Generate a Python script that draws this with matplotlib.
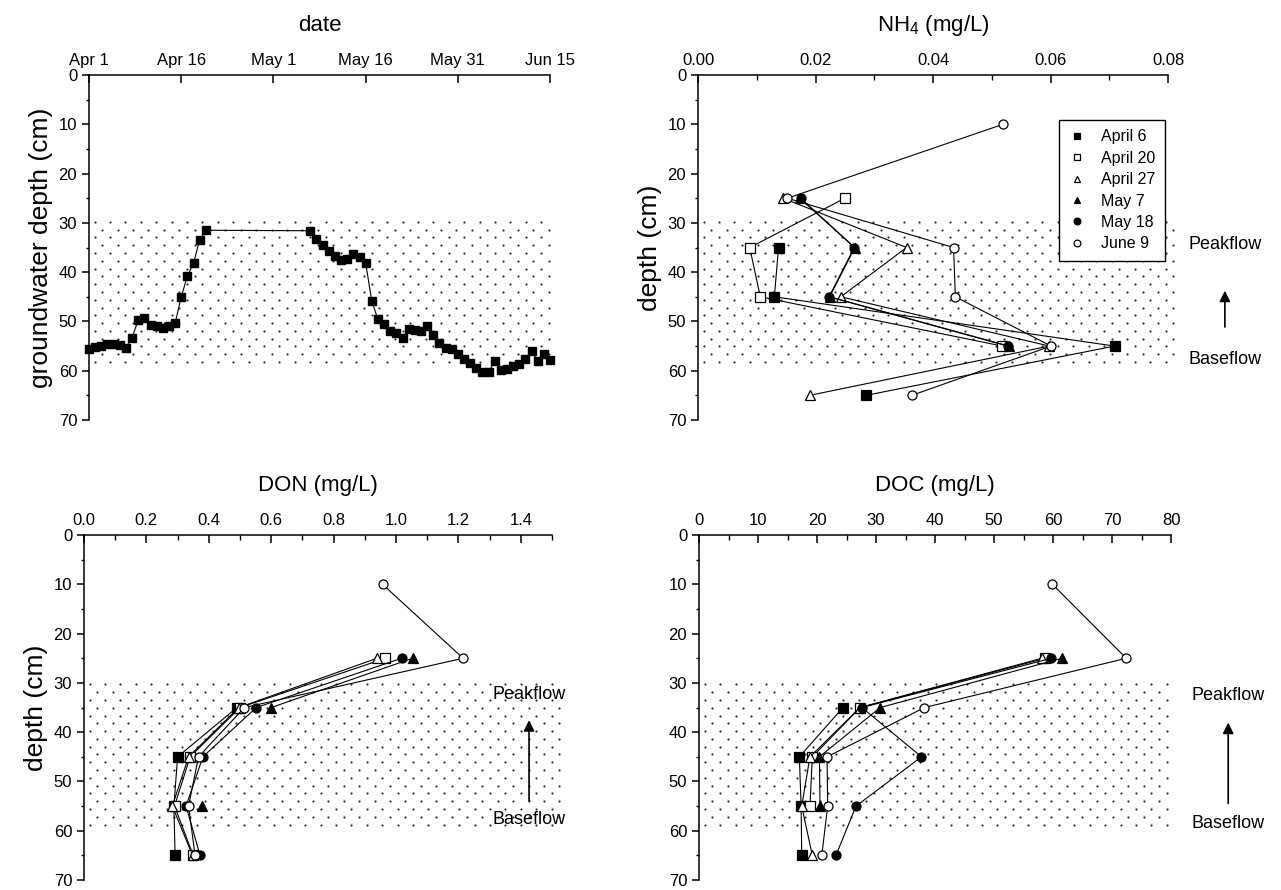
import numpy as np
import matplotlib
matplotlib.use("Agg")
import matplotlib.pyplot as plt
from matplotlib.ticker import MultipleLocator

plt.rcParams['font.family'] = ['Liberation Sans', 'DejaVu Sans']
plt.rcParams['mathtext.default'] = 'regular'

nan = np.nan

# groundwater depth, days after Apr 1 (no readings Apr 21 - May 6)
days = list(range(0, 20)) + list(range(36, 76))
gw_depth = [55.6, 55.2, 54.9, 54.6, 54.5, 54.8, 55.3, 53.3, 49.7, 49.4,
            50.7, 51.0, 51.3, 51.0, 50.4, 45.0, 40.8, 38.2, 33.4, 31.5,
            31.6, 33.3, 34.5, 35.7, 36.8, 37.5, 37.4, 36.4, 37.0, 38.1,
            45.9, 49.6, 50.6, 51.9, 52.3, 53.3, 51.6, 51.7, 52.0, 51.0,
            52.7, 54.3, 55.3, 55.5, 56.6, 57.6, 58.4, 59.4, 60.2, 60.3,
            58.0, 59.9, 59.7, 59.0, 58.7, 57.7, 56.0, 58.0, 56.7, 57.8]
date_ticks = [0, 15, 30, 45, 60, 75]
date_labels = ["Apr 1", "Apr 16", "May 1", "May 16", "May 31", "Jun 15"]

# profiles: one row per sampling date, one column per depth
depths = [10, 25, 35, 45, 55, 65]
sample_dates = ["April 6", "April 20", "April 27", "May 7", "May 18", "June 9"]

nh4 = [[nan, nan, 0.0137, 0.0130, 0.0709, 0.0286],
       [nan, 0.0250, 0.0088, 0.0106, 0.0518, nan],
       [nan, 0.0145, 0.0355, 0.0243, 0.0598, 0.0190],
       [nan, 0.0173, 0.0267, 0.0224, 0.0529, nan],
       [nan, 0.0175, 0.0266, 0.0223, 0.0527, nan],
       [0.0519, 0.0152, 0.0435, 0.0438, 0.0601, 0.0364]]

don = [[nan, nan, 0.49, 0.300, 0.288, 0.292],
       [nan, 0.966, 0.50, 0.340, 0.290, 0.350],
       [nan, 0.939, 0.496, 0.335, 0.283, 0.348],
       [nan, 1.053, 0.60, nan, 0.378, nan],
       [nan, 1.018, 0.552, 0.381, 0.327, 0.372],
       [0.957, 1.215, 0.514, 0.367, 0.335, 0.356]]

doc = [[nan, nan, 24.4, 17.0, 17.3, 17.4],
       [nan, 58.7, 27.3, 19.2, 18.8, nan],
       [nan, 58.1, 27.3, 18.8, 17.4, 19.2],
       [nan, 61.5, 30.7, 20.4, 20.5, nan],
       [nan, 59.7, 27.6, 37.7, 26.6, 23.2],
       [59.9, 72.4, 38.2, 21.7, 21.8, 20.8]]

markers = ['s', 's', '^', '^', 'o', 'o']
faces = ['k', 'w', 'w', 'k', 'k', 'w']


def dotted_band(ax, top, bottom, extend=1.0):
    # stippled band (staggered dot texture) between two depths
    fig = ax.figure
    bb = ax.get_position()
    w_px = bb.width * fig.get_figwidth() * fig.dpi
    dx = 15.4 / w_px
    dy = 1.58
    xs, ys = [], []
    for k, y in enumerate(np.arange(top + 0.3, bottom, dy)):
        x0 = 0.012 if k % 2 == 0 else 0.012 + dx / 2
        row = np.arange(x0, extend, dx)
        xs.extend(row)
        ys.extend([y] * len(row))
    ax.scatter(xs, ys, s=2.4, c='#2a2a2a', lw=0, marker='o',
               transform=ax.get_yaxis_transform(), zorder=0, clip_on=False)


def setup(ax, label, major, minor, shade, extend=1.0):
    ax.set_ylim(70, 0)
    ax.yaxis.set_major_locator(MultipleLocator(10))
    ax.yaxis.set_minor_locator(MultipleLocator(5))
    if major:
        ax.xaxis.set_major_locator(MultipleLocator(major))
        ax.xaxis.set_minor_locator(MultipleLocator(minor))
    ax.xaxis.tick_top()
    ax.xaxis.set_label_position('top')
    ax.set_xlabel(label, fontsize=16, labelpad=16)
    for s in ['right', 'bottom']:
        ax.spines[s].set_visible(False)
    for s in ['left', 'top']:
        ax.spines[s].set_linewidth(1.1)
    ax.tick_params(axis='x', which='both', direction='in', top=True, bottom=False,
                   labelsize=12, pad=5)
    ax.tick_params(axis='x', which='major', length=6, width=1.1)
    ax.tick_params(axis='x', which='minor', length=3.5, width=1)
    ax.tick_params(axis='y', which='both', direction='out', labelsize=12)
    ax.tick_params(axis='y', which='major', length=5, width=1.1)
    ax.tick_params(axis='y', which='minor', length=2.5, width=1)
    dotted_band(ax, shade[0], shade[1], extend)


def profiles(ax, data):
    for i in range(len(sample_dates)):
        ax.plot(data[i], depths, color='k', lw=0.8, marker=markers[i], ms=6.5,
                mfc=faces[i], mec='k', mew=0.9, label=sample_dates[i], clip_on=False)


def flow_arrow(ax, xf, head, tail, peak, base):
    tr = ax.get_yaxis_transform()
    ax.annotate('', xy=(xf, head), xytext=(xf, tail), xycoords=tr,
                arrowprops=dict(arrowstyle='-|>', color='k', lw=1.2, mutation_scale=16),
                annotation_clip=False)
    ax.text(xf, peak, 'Peakflow', transform=tr, ha='center', va='center', fontsize=13)
    ax.text(xf, base, 'Baseflow', transform=tr, ha='center', va='center', fontsize=13)


fig = plt.figure(figsize=(12.81, 8.90), dpi=100)
ax1 = fig.add_axes([0.0695, 0.5281, 0.3599, 0.3876])
ax2 = fig.add_axes([0.5449, 0.5281, 0.3669, 0.3876])
ax3 = fig.add_axes([0.0656, 0.0112, 0.3653, 0.3876])
ax4 = fig.add_axes([0.5457, 0.0112, 0.3685, 0.3876])

# groundwater depth time series
setup(ax1, 'date', None, None, (29.5, 59.5))
ax1.plot(days, gw_depth, color='k', lw=0.8, marker='s', ms=5.5, clip_on=False)
ax1.set_xlim(0, 75)
ax1.set_xticks(date_ticks)
ax1.set_xticklabels(date_labels)
ax1.xaxis.set_minor_locator(plt.NullLocator())
ax1.set_ylabel('groundwater depth (cm)', fontsize=19)

# NH4
setup(ax2, 'NH$_4$ (mg/L)', 0.02, 0.01, (29.5, 59.5), extend=1.02)
profiles(ax2, nh4)
ax2.set_xlim(0, 0.08)
ax2.set_xticklabels([f'{v:.2f}' for v in ax2.get_xticks()])
ax2.set_ylabel('depth (cm)', fontsize=19)
leg = ax2.legend(loc='upper right', bbox_to_anchor=(0.993, 0.87), fontsize=11.5,
                 markerscale=0.75, handlelength=1.0, handletextpad=1.0,
                 labelspacing=0.4, fancybox=False, edgecolor='k', framealpha=1,
                 borderpad=0.6, borderaxespad=0)
leg.get_frame().set_linewidth(1.0)
leg.set_zorder(5)
for h in leg.get_lines():
    h.set_linestyle('')
flow_arrow(ax2, 1.121, 43.2, 51.7, 34.3, 57.8)

# DON
setup(ax3, 'DON (mg/L)', 0.2, 0.1, (30, 60), extend=1.02)
profiles(ax3, don)
ax3.set_xlim(0, 1.5)
ax3.set_xticks([0, 0.2, 0.4, 0.6, 0.8, 1.0, 1.2, 1.4])
ax3.set_xticklabels([f'{v:.1f}' for v in ax3.get_xticks()])
ax3.set_ylabel('depth (cm)', fontsize=19)
flow_arrow(ax3, 0.951, 37.0, 54.5, 32.3, 57.8)

# DOC
setup(ax4, 'DOC (mg/L)', 10, 5, (30, 60))
profiles(ax4, doc)
ax4.set_xlim(0, 80)
flow_arrow(ax4, 1.121, 37.5, 55.0, 32.5, 58.5)

fig.savefig('out.png', dpi=100)
